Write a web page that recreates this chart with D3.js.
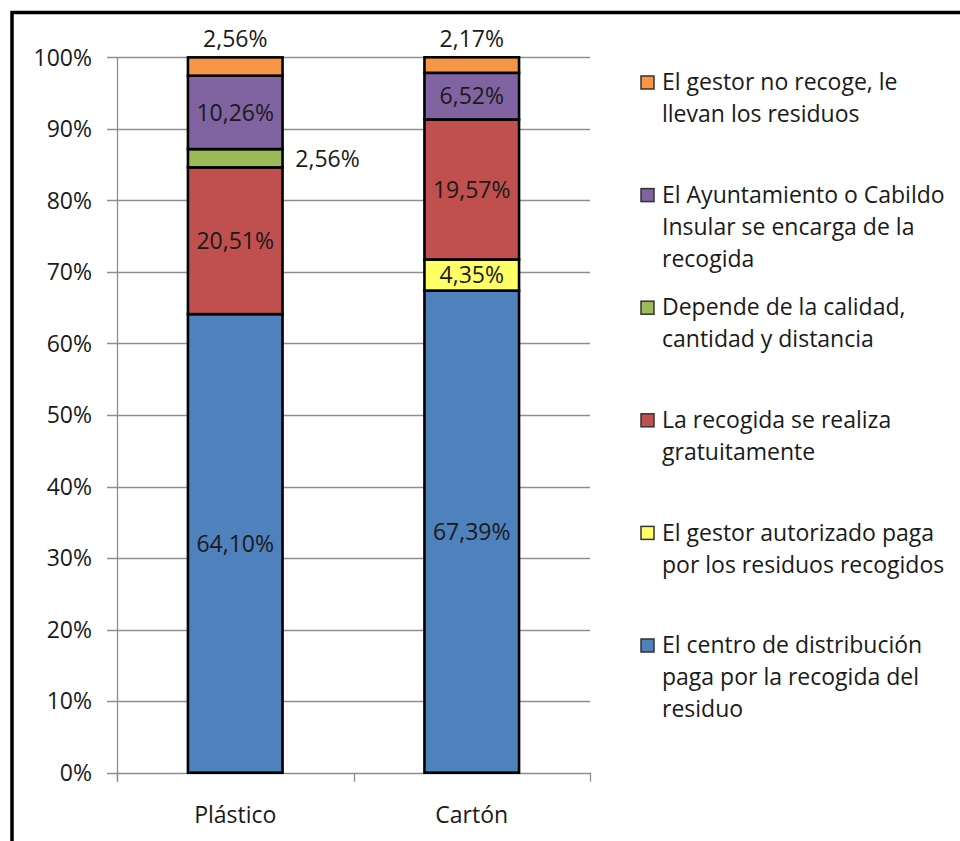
<!DOCTYPE html>
<html>
<head>
<meta charset="utf-8">
<script src="https://cdn.jsdelivr.net/npm/d3@7"></script>
<style>
  html, body { margin: 0; padding: 0; background: #fff; }
  svg { display: block; }
  text { font-family: "Open Sans", sans-serif; fill: #1a1a1a; }
</style>
</head>
<body>
<svg id="chart" width="960" height="841"></svg>
<script>
// ---- data ----
const categories = ["Plástico", "Cartón"];
const seriesNames = [
  "El centro de distribución paga por la recogida del residuo",
  "El gestor autorizado paga por los residuos recogidos",
  "La recogida se realiza gratuitamente",
  "Depende de la calidad, cantidad y distancia",
  "El Ayuntamiento o Cabildo Insular se encarga de la recogida",
  "El gestor no recoge, le llevan los residuos"
];
const legendLines = [
  ["El centro de distribución", "paga por la recogida del", "residuo"],
  ["El gestor autorizado paga", "por los residuos recogidos"],
  ["La recogida se realiza", "gratuitamente"],
  ["Depende de la calidad,", "cantidad y distancia"],
  ["El Ayuntamiento o Cabildo", "Insular se encarga de la", "recogida"],
  ["El gestor no recoge, le", "llevan los residuos"]
];
const plastico = [64.10, 0, 20.51, 2.56, 10.26, 2.56];
const carton   = [67.39, 4.35, 19.57, 0, 6.52, 2.17];
const yTicks = [0, 10, 20, 30, 40, 50, 60, 70, 80, 90, 100];
const colors = ["#4F81BD", "#FFFF66", "#C0504D", "#9BBB59", "#8064A2", "#F79646"];

(function () {
// ---- layout ----
const svg = d3.select("#chart");
const pLeft = 117, pRight = 590, pTop = 57.3, pBottom = 772.7;

// outer border
svg.append("rect").attr("x", 12).attr("y", 12.5).attr("width", 1000).attr("height", 900)
  .attr("fill", "none").attr("stroke", "#000").attr("stroke-width", 3.5);

const y = d3.scaleLinear().domain([0, 100]).range([pBottom, pTop]);
const x = d3.scaleBand().domain(categories).range([pLeft, pRight]).paddingInner(0.6).paddingOuter(0.3);
const xb = d3.scaleBand().domain(categories).range([pLeft, pRight]).padding(0);

const gridColor = "#8e8e8e";
// gridlines
svg.append("g").selectAll("line").data(yTicks).join("line")
  .attr("x1", pLeft - 10).attr("x2", pRight)
  .attr("y1", d => Math.round(y(d)) + 0.5).attr("y2", d => Math.round(y(d)) + 0.5)
  .attr("stroke", gridColor).attr("stroke-width", 1.3);

// y axis line
svg.append("line").attr("x1", pLeft + 0.5).attr("x2", pLeft + 0.5)
  .attr("y1", y(100)).attr("y2", pBottom + 9)
  .attr("stroke", gridColor).attr("stroke-width", 1.3);

// category ticks
const bounds = [pLeft, ...categories.slice(1).map(c => xb(c)), pRight];
svg.append("g").selectAll("line").data(bounds).join("line")
  .attr("x1", d => Math.round(d) + 0.5).attr("x2", d => Math.round(d) + 0.5)
  .attr("y1", pBottom).attr("y2", pBottom + 9)
  .attr("stroke", gridColor).attr("stroke-width", 1.3);

// y tick labels
svg.append("g").selectAll("text").data(yTicks).join("text")
  .attr("x", 92).attr("y", d => y(d)).attr("dy", "0.36em")
  .attr("text-anchor", "end").attr("font-size", 23)
  .text(d => d + "%");

// category labels
svg.append("g").selectAll("text").data(categories).join("text")
  .attr("x", d => x(d) + x.bandwidth() / 2).attr("y", 815).attr("dy", "0.36em")
  .attr("text-anchor", "middle").attr("font-size", 23)
  .text(d => d);

// stacked bars
const values = { "Plástico": plastico, "Cartón": carton };
const fmt = v => v.toFixed(2).replace(".", ",") + "%";
const segs = [];
categories.forEach(c => {
  let acc = 0;
  values[c].forEach((v, i) => {
    segs.push({ cat: c, i, v, y0: acc, y1: acc + v });
    acc += v;
  });
});
const drawn = segs.filter(s => s.v > 0);

svg.append("g").selectAll("rect").data(drawn).join("rect")
  .attr("x", d => x(d.cat)).attr("width", x.bandwidth())
  .attr("y", d => y(d.y1)).attr("height", d => y(d.y0) - y(d.y1))
  .attr("fill", d => colors[d.i]).attr("stroke", "#000").attr("stroke-width", 2.6);

// data labels
svg.append("g").selectAll("text").data(drawn).join("text")
  .attr("text-anchor", "middle").attr("font-size", 23).attr("dy", "0.36em")
  .attr("x", d => {
    const cx = x(d.cat) + x.bandwidth() / 2;
    return d.i === 3 ? x(d.cat) + x.bandwidth() + 45 : cx;
  })
  .attr("y", d => d.i === 5 ? y(d.y1) - 19 : y((d.y0 + d.y1) / 2))
  .text(d => fmt(d.v));

// legend (top entry = last series)
const legY0 = 82, legStep = 112.6, lineH = 32;
const order = d3.range(seriesNames.length).reverse();
const leg = svg.append("g").selectAll("g").data(order).join("g")
  .attr("transform", (d, k) => `translate(0, ${legY0 + k * legStep})`);
leg.append("rect").attr("x", 641).attr("y", -6).attr("width", 13).attr("height", 13)
  .attr("fill", d => colors[d]).attr("stroke", "#333").attr("stroke-width", 1.5);
leg.append("text").attr("font-size", 23)
  .selectAll("tspan").data(d => legendLines[d]).join("tspan")
  .attr("x", 662).attr("y", (t, j) => j * lineH).attr("dy", "0.36em")
  .text(t => t);
})();
</script>
</body>
</html>
